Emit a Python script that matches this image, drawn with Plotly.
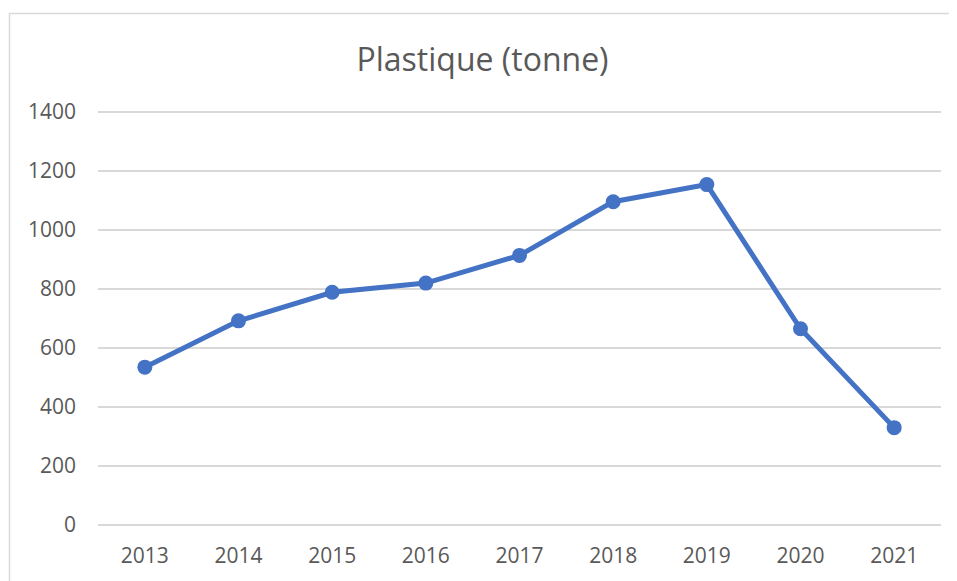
import plotly.graph_objects as go

years = ["2013", "2014", "2015", "2016", "2017", "2018", "2019", "2020", "2021"]
plastique = [535, 692, 789, 820, 914, 1096, 1154, 665, 330]
y_ticks = [0, 200, 400, 600, 800, 1000, 1200, 1400]

OFF = 8  # default page body margin
W, H = 957 - OFF, 581 - OFF
L, R, T, B = 98 - OFF, 16, 111 - OFF, 53
pw, ph = W - L - R, H - T - B

fig = go.Figure()
fig.add_trace(go.Scatter(
    x=years, y=plastique, mode="lines+markers",
    line=dict(color="#4472C4", width=5),
    marker=dict(color="#4472C4", size=15),
    showlegend=False, cliponaxis=False,
))

# chart border (cropped: visible on top and left)
bx0 = (9.5 - OFF - L) / pw
by1 = (H - B - (13 - OFF)) / ph
fig.add_shape(type="rect", xref="paper", yref="paper",
              x0=bx0, x1=1.2, y0=-0.3, y1=by1,
              line=dict(color="#D9D9D9", width=1.5), layer="below")

fig.update_layout(
    width=W, height=H,
    margin=dict(l=L, r=R, t=T, b=B),
    paper_bgcolor="white", plot_bgcolor="white",
    font=dict(family="Open Sans", color="#595959", size=21),
    title=dict(text="Plastique (tonne)", x=0.5, xanchor="center",
               y=1 - (60 - OFF) / H, yanchor="middle",
               font=dict(size=32, color="#595959", family="Open Sans")),
)
fig.update_xaxes(type="category", range=[-0.5, 8.5], showgrid=False,
                 showline=False, ticks="", tickfont=dict(size=21, color="#595959"),
                 ticklabelstandoff=15)
fig.update_yaxes(range=[-3.5, 1403.5], tickvals=y_ticks, showgrid=True,
                 gridcolor="#D9D9D9", gridwidth=1.6, zeroline=False,
                 showline=False, ticks="", tickfont=dict(size=21, color="#595959"),
                 ticklabelstandoff=21)

fig.write_html("out.html")
